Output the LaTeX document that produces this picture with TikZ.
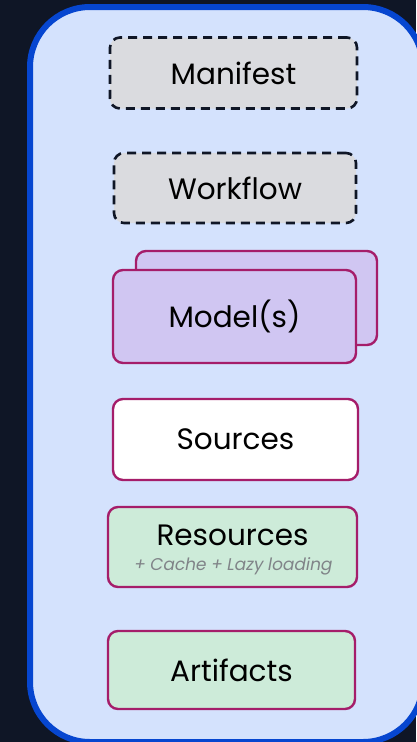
\documentclass[tikz,border=0pt]{standalone}
\usepackage{fontspec}
\setmainfont{Poppins}
\newfontfamily\notefont[FakeSlant=0.18]{Poppins}
\definecolor{bgdark}{RGB}{15,22,38}
\definecolor{frameblue}{RGB}{6,70,208}
\definecolor{framefill}{RGB}{212,226,253}
\definecolor{greyfill}{RGB}{218,219,223}
\definecolor{lilac}{RGB}{208,198,242}
\definecolor{berry}{RGB}{165,29,106}
\definecolor{mint}{RGB}{205,235,217}
\definecolor{notegrey}{RGB}{128,132,136}
\tikzset{
  container/.style={draw=frameblue, fill=framefill, line width=6pt, rounded corners=60pt},
  labelfont/.style={font=\fontsize{29.5}{34}\selectfont},
  boxbase/.style={rounded corners=10pt, align=center, text=black, labelfont, inner sep=0pt},
  ghostbox/.style={boxbase, draw=bgdark, fill=greyfill, line width=2.6pt,
    dash pattern=on 9pt off 6pt},
  solidbox/.style={boxbase, draw=berry, line width=2.4pt},
  note/.style={font=\notefont\fontsize{17}{20}\selectfont, text=notegrey, inner sep=0pt},
}
\begin{document}
\begin{tikzpicture}[x=1pt, y=-1pt]
\useasboundingbox (0,0) rectangle (416,742);
\fill[bgdark] (0,0) rectangle (416,742);
\draw[container] (30,7) rectangle (423,742);

\node[ghostbox, minimum width=247, minimum height=71] (manifest) at (233.5,73) {Manifest};
\node[ghostbox, minimum width=242, minimum height=70] (workflow) at (235,188) {Workflow};

\node[solidbox, fill=lilac, minimum width=241, minimum height=94] (modelback) at (256.5,298) {};
\node[solidbox, fill=lilac, minimum width=243, minimum height=93] (model) at (234.5,316.5) {Model(s)};

\node[solidbox, fill=white, minimum width=245, minimum height=81] (sources) at (235.5,439.5) {Sources};

\node[solidbox, fill=mint, minimum width=249, minimum height=80] (resources) at (232.5,547) {};
\node[labelfont, inner sep=0pt] (restitle) at (232.5,535) {Resources};
\node[note] (resnote) at (232.5,566) {+ Cache + Lazy loading};

\node[solidbox, fill=mint, minimum width=247, minimum height=78] (artifacts) at (231.5,670) {Artifacts};
\end{tikzpicture}
\end{document}
